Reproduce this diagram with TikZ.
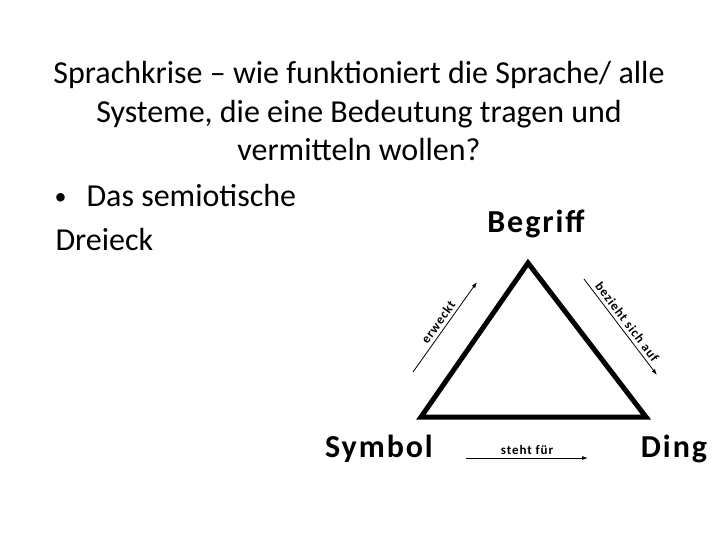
\documentclass[tikz,border=0pt]{standalone}
\usepackage{fontspec}
\setmainfont{Carlito}
\newfontfamily\sperrfont[LetterSpace=7]{Carlito}
\newfontfamily\eckfont[LetterSpace=6]{Carlito}
\usetikzlibrary{positioning,arrows.meta}

\tikzset{
  titel/.style={font=\fontsize{32}{38}\selectfont,anchor=base},
  ecke/.style={font=\eckfont\fontsize{32}{38}\selectfont\bfseries,anchor=base},
  klein/.style={font=\sperrfont\fontsize{13}{15}\selectfont\bfseries},
  pfeil/.style={-{Latex[length=6pt,width=4pt]},line width=0.8pt}
}

\begin{document}
\begin{tikzpicture}[x=1pt,y=-1pt]
  \useasboundingbox (0,0) rectangle (720,540);

  \node [titel] (zeile1) at (359,84) {Sprachkrise -- wie funktioniert die Sprache/ alle};
  \node [titel] (zeile2) at (359,122.5) {Systeme, die eine Bedeutung tragen und};
  \node [titel] (zeile3) at (359,161) {vermitteln wollen?};
  \node [titel,font=\fontsize{24}{30}\selectfont,anchor=base west] (punkt) at (51,205) {•};
  \node [titel,anchor=base west] (punkt1) at (83,207) {Das semiotische};
  \node [titel,anchor=base west] (punkt2) at (52,250) {Dreieck};

  \coordinate (oben) at (528,263);
  \coordinate (links) at (421,417);
  \coordinate (rechts) at (646,417);
  \draw [line width=5pt,line join=miter] (oben) -- (links) -- (rechts) -- cycle;

  \node [ecke] (begriff) at (536,233) {Begriff};
  \node [ecke] (symbol) at (379,457) {Symbol};
  \node [ecke] (ding) at (674,457) {Ding};

  \coordinate (e1) at (413,372);
  \coordinate (e2) at (477,282);
  \coordinate (b1) at (584,279);
  \coordinate (b2) at (657,375);
  \coordinate (s1) at (466,458);
  \coordinate (s2) at (588,458);
  \draw [pfeil] (e1) -- node [klein,sloped,above=0pt] {erweckt} (e2);
  \draw [pfeil] (b1) -- node [klein,sloped,above=0pt] {bezieht sich auf} (b2);
  \draw [pfeil] (s1) -- node [klein,above=0pt] {steht für} (s2);
\end{tikzpicture}
\end{document}
